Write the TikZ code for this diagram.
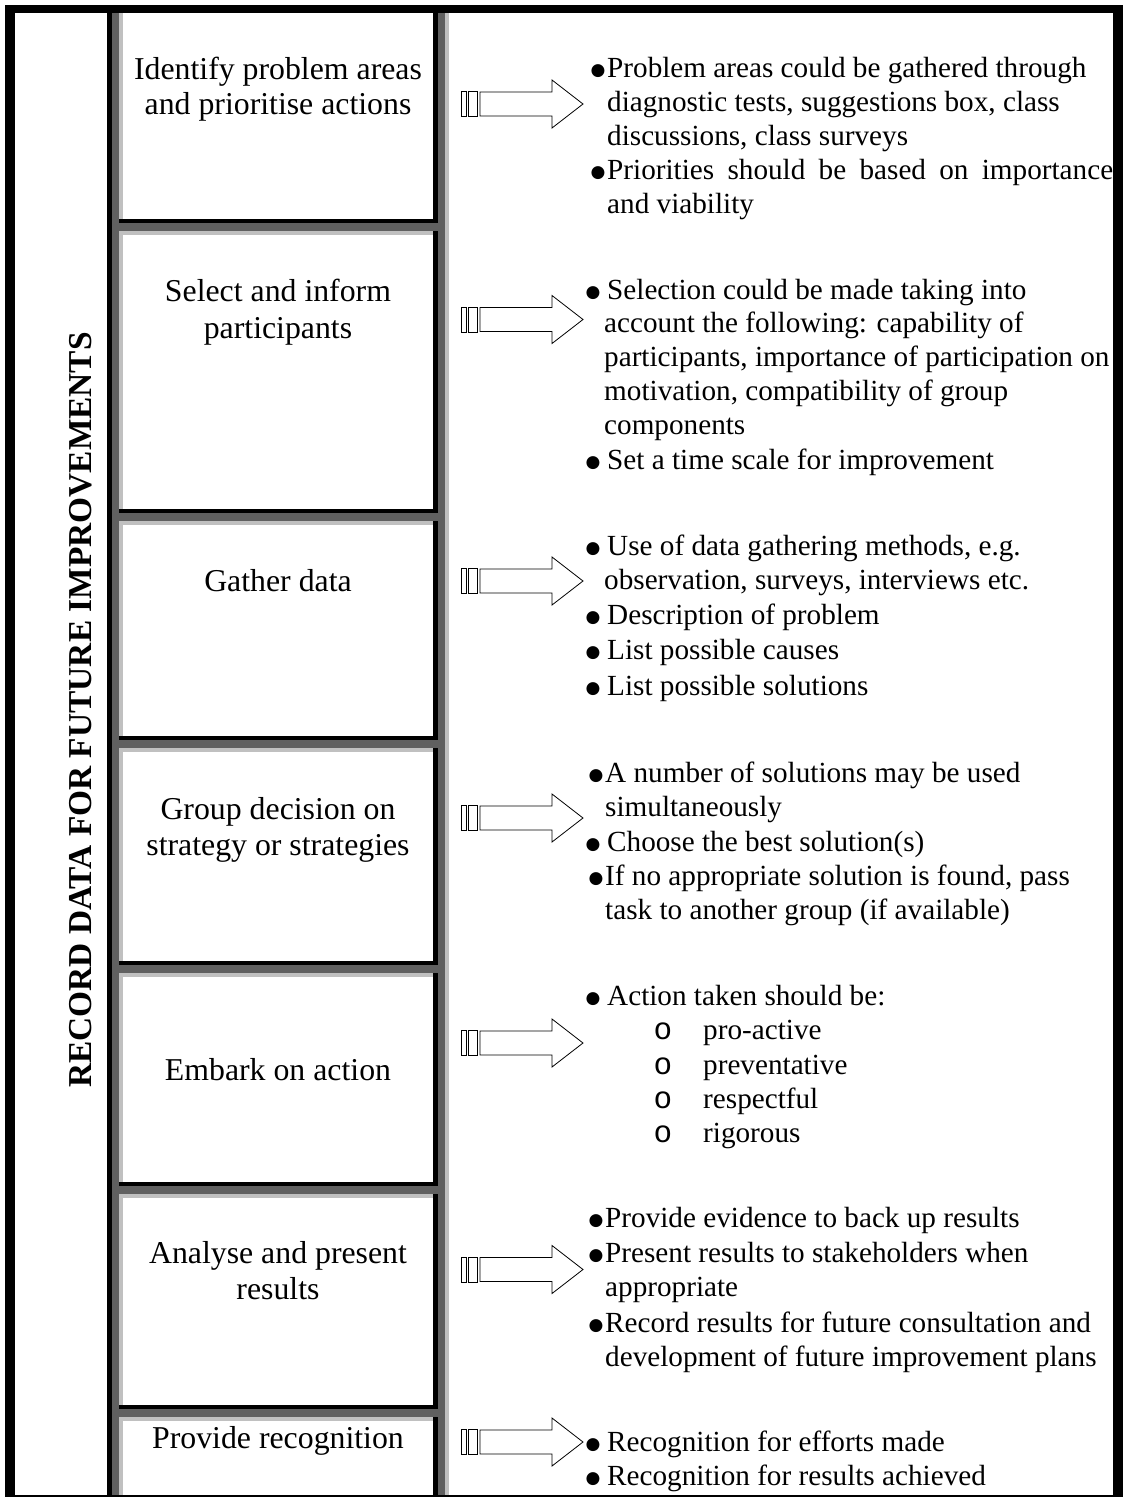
\documentclass[tikz,border=0pt]{standalone}
\usepackage{graphicx}
\usepackage{fontspec}
\setmainfont{Liberation Serif}
\newfontfamily\subfont{Liberation Mono}
\newfontfamily\dotfont{DejaVu Sans}
\definecolor{dgrey}{RGB}{96,96,96}
\definecolor{lgrey}{RGB}{192,192,192}
\begin{document}
\begin{tikzpicture}[x=1pt,y=-1pt,
  boxtext/.style={font=\fontsize{31.8}{36}\selectfont, anchor=base, inner sep=0pt},
  itemtext/.style={font=\fontsize{29.2}{34}\selectfont, anchor=base west, inner sep=0pt},
  bulletmark/.style={font=\dotfont\fontsize{17}{18}\selectfont, anchor=base, inner sep=0pt, yshift=2pt},
  submark/.style={font=\subfont\fontsize{31}{34}\selectfont, anchor=base, inner sep=0pt},
  arrline/.style={draw=black, line width=0.8pt, fill=white, line join=miter},
  blockarrow/.pic={
    \draw[arrline] (0,-12.5) rectangle (5,12.5);
    \draw[arrline] (7,-12.5) rectangle (16,12.5);
    \draw[arrline] (19,-12) -- (91,-12) -- (91,-24) -- (122,0) -- (91,24) -- (91,12) -- (19,12) -- cycle;
  }
]
\fill[white] (0,0) rectangle (1128,1497);
\useasboundingbox (0,0) rectangle (1128,1497);

% column strips
\fill[black] (107,13) rectangle (112,1497);
\fill[dgrey] (112,13) rectangle (119,1497);
\fill[lgrey] (119,13) rectangle (123,1497);
\fill[black] (433,13) rectangle (438,1497);
\fill[dgrey] (438,13) rectangle (445,1497);
\fill[lgrey] (445,13) rectangle (449,1497);
\foreach \y in {219,509,736,961,1182,1405}{
  \fill[black] (119,\y) rectangle (438,\y+4);
  \fill[dgrey] (119,\y+4) rectangle (438,\y+12);
  \fill[lgrey] (119,\y+12) rectangle (433,\y+16);
}

% outer frame
\fill[black] (5,5) rectangle (1123,13);
\fill[black] (5,5) rectangle (15,1497);
\fill[black] (1113,5) rectangle (1123,1497);
\fill[black] (5,1495) rectangle (1123,1497);

% side title
\node[rotate=90, anchor=base, inner sep=0pt, font=\bfseries\fontsize{33.4}{40}\selectfont] (side) at (91,710) {RECORD DATA FOR FUTURE IMPROVEMENTS};

% box texts
\node[boxtext] (s1a) at (278,79) {Identify problem areas};
\node[boxtext] (s1b) at (278,114) {and prioritise actions};
\node[boxtext] (s2a) at (278,301) {Select and inform};
\node[boxtext] (s2b) at (278,338) {participants};
\node[boxtext] (s3a) at (278,591) {Gather data};
\node[boxtext] (s4a) at (278,819) {Group decision on};
\node[boxtext] (s4b) at (278,855) {strategy or strategies};
\node[boxtext] (s5a) at (278,1080) {Embark on action};
\node[boxtext] (s6a) at (278,1263) {Analyse and present};
\node[boxtext] (s6b) at (278,1299) {results};
\node[boxtext] (s7a) at (278,1448) {Provide recognition};

% arrows
\pic (a1) at (461,104) {blockarrow};
\pic (a2) at (461,319.5) {blockarrow};
\pic (a3) at (461,581) {blockarrow};
\pic (a4) at (461,818) {blockarrow};
\pic (a5) at (461,1043) {blockarrow};
\pic (a6) at (461,1269.5) {blockarrow};
\pic (a7) at (461,1442) {blockarrow};

% box 1 items
\node[bulletmark] (m11) at (598,77) {●};
\node[itemtext] (t11) at (607,77) {Problem areas could be gathered through};
\node[itemtext] (t12) at (607,111) {diagnostic tests, suggestions box, class};
\node[itemtext] (t13) at (607,145) {discussions, class surveys};
\node[bulletmark] (m12) at (598,179) {●};
\node[itemtext] (t14) at (607,179) {\makebox[506pt][s]{Priorities should be based on importance}};
\node[itemtext] (t15) at (607,213) {and viability};

% box 2 items
\node[bulletmark] (m21) at (593,299) {●};
\node[itemtext] (t21) at (607,299) {Selection could be made taking into};
\node[itemtext] (t22) at (604,332) {account the following: capability of};
\node[itemtext] (t23) at (604,366) {participants, importance of participation on};
\node[itemtext] (t24) at (604,400) {motivation, compatibility of group};
\node[itemtext] (t25) at (604,434) {components};
\node[bulletmark] (m22) at (593,469) {●};
\node[itemtext] (t26) at (607,469) {Set a time scale for improvement};

% box 3 items
\node[bulletmark] (m31) at (593,555) {●};
\node[itemtext] (t31) at (607,555) {Use of data gathering methods, e.g.};
\node[itemtext] (t32) at (604,589) {observation, surveys, interviews etc.};
\node[bulletmark] (m32) at (593,624) {●};
\node[itemtext] (t33) at (607,624) {Description of problem};
\node[bulletmark] (m33) at (593,659) {●};
\node[itemtext] (t34) at (607,659) {List possible causes};
\node[bulletmark] (m34) at (593,695) {●};
\node[itemtext] (t35) at (607,695) {List possible solutions};

% box 4 items
\node[bulletmark] (m41) at (596,782) {●};
\node[itemtext] (t41) at (605,782) {A number of solutions may be used};
\node[itemtext] (t42) at (605,816) {simultaneously};
\node[bulletmark] (m42) at (593,851) {●};
\node[itemtext] (t43) at (607,851) {Choose the best solution(s)};
\node[bulletmark] (m43) at (596,885) {●};
\node[itemtext] (t44) at (605,885) {If no appropriate solution is found, pass};
\node[itemtext] (t45) at (605,919) {task to another group (if available)};

% box 5 items
\node[bulletmark] (m51) at (593,1005) {●};
\node[itemtext] (t51) at (607,1005) {Action taken should be:};
\node[submark] (o51) at (663,1039) {o};
\node[itemtext] (t52) at (703,1039) {pro-active};
\node[submark] (o52) at (663,1074) {o};
\node[itemtext] (t53) at (703,1074) {preventative};
\node[submark] (o53) at (663,1108) {o};
\node[itemtext] (t54) at (703,1108) {respectful};
\node[submark] (o54) at (663,1142) {o};
\node[itemtext] (t55) at (703,1142) {rigorous};

% box 6 items
\node[bulletmark] (m61) at (596,1227) {●};
\node[itemtext] (t61) at (605,1227) {Provide evidence to back up results};
\node[bulletmark] (m62) at (596,1262) {●};
\node[itemtext] (t62) at (605,1262) {Present results to stakeholders when};
\node[itemtext] (t63) at (605,1296) {appropriate};
\node[bulletmark] (m63) at (596,1332) {●};
\node[itemtext] (t64) at (605,1332) {Record results for future consultation and};
\node[itemtext] (t65) at (605,1366) {development of future improvement plans};

% box 7 items
\node[bulletmark] (m71) at (593,1451) {●};
\node[itemtext] (t71) at (607,1451) {Recognition for efforts made};
\node[bulletmark] (m72) at (593,1485) {●};
\node[itemtext] (t72) at (607,1485) {Recognition for results achieved};
\end{tikzpicture}
\end{document}
